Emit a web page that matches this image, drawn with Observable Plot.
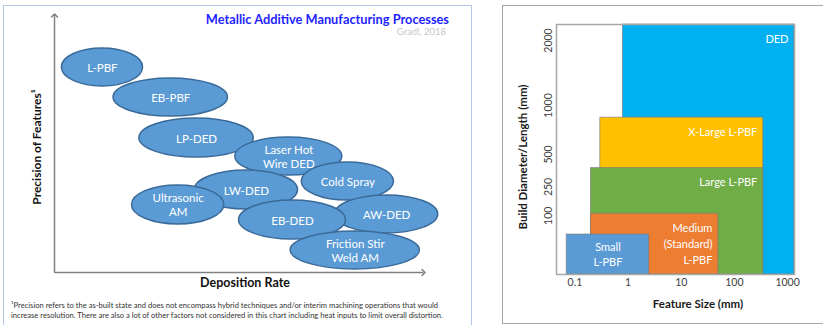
<!DOCTYPE html>
<html><head><meta charset="utf-8">
<script src="https://cdn.jsdelivr.net/npm/d3@7"></script>
<script src="https://cdn.jsdelivr.net/npm/@observablehq/plot@0.6"></script>
<style>
body{margin:0;background:#fff;font-family:Lato,"Open Sans",sans-serif;}
#wrap{position:relative;width:823px;height:325px;overflow:hidden;background:#fff;}
.abs{position:absolute;white-space:nowrap;line-height:1;}
.box{position:absolute;box-sizing:border-box;}
</style></head><body>
<div id="wrap">
  <div class="box" style="left:3px;top:5px;width:469px;height:340px;border:1px solid #b4c7e7;"></div>
  <div class="box" style="left:502px;top:5px;width:340px;height:319px;border:1.5px solid #a6a6a6;"></div>
  <div id="left" class="abs" style="left:0;top:0;"></div>
  <div id="right" class="abs" style="left:502px;top:0;"></div>
  <div class="abs" style="left:449px;top:19px;transform:translate(-100%,-50%);color:#1f1fff;font-weight:bold;font-size:12.8px;">Metallic Additive Manufacturing Processes</div>
  <div class="abs" style="left:446px;top:32px;transform:translate(-100%,-50%);color:#c8c8c8;font-size:9.5px;">Gradl, 2018</div>
  <div class="abs" style="left:245px;top:283px;transform:translate(-50%,-50%);color:#111;font-weight:bold;font-size:12.5px;">Deposition Rate</div>
  <div class="abs" style="left:37px;top:147px;transform:translate(-50%,-50%) rotate(-90deg);color:#111;font-weight:bold;font-size:12px;">Precision of Features¹</div>
  <div class="abs" style="left:11px;top:300px;color:#333;font-size:7.6px;line-height:10px;">¹Precision refers to the as-built state and does not encompass hybrid techniques and/or interim machining operations that would<br>increase resolution. There are also a lot of other factors not considered in this chart including heat inputs to limit overall distortion.</div>
  <div class="abs" style="left:698px;top:304px;transform:translate(-50%,-50%);color:#1a1a1a;font-weight:bold;font-size:11.5px;">Feature Size (mm)</div>
  <div class="abs" style="left:523px;top:157px;transform:translate(-50%,-50%) rotate(-90deg);color:#1a1a1a;font-weight:bold;font-size:11.5px;">Build Diameter/Length (mm)</div>
</div>
<script>
// ---- Left panel: processes (conceptual, 0-100 relative units) ----
const processes = ["L-PBF","EB-PBF","LP-DED","Laser Hot\nWire DED","Cold Spray","LW-DED","Ultrasonic\nAM","AW-DED","EB-DED","Friction Stir\nWeld AM"];
const rateLow       = [2, 16, 23, 49, 67, 38, 21, 76, 50, 64];
const rateHigh      = [24, 47, 54, 78, 92, 66, 46, 104, 79, 99];
const precisionLow  = [72.4, 60.7, 44.7, 37.7, 28, 24.5, 18.7, 15.2, 12.8, 1.2];
const precisionHigh = [87.2, 75.5, 59.9, 52.5, 42.8, 39.7, 33.9, 30, 28, 16];

// ---- Right panel: L-PBF / DED build envelopes ----
const systems    = ["DED","X-Large L-PBF","Large L-PBF","Medium\n(Standard)\nL-PBF","Small\nL-PBF"];
const featureMin = [0.8, 0.3, 0.2, 0.2, 0.07];
const featureMax = [1350, 350, 350, 50, 2.5];
const buildMax   = [2540, 1000, 460, 150, 65];
const sizeTicks  = [0.1, 1, 10, 100, 1000];
const buildTicks = [100, 250, 500, 1000, 2000];

const systemColors = ["#00b0f0","#ffc000","#70ad47","#ed7d31","#5b9bd5"];

const ell = processes.map((name,i)=>({name, x1:rateLow[i], x2:rateHigh[i], y1:precisionLow[i], y2:precisionHigh[i]}));
const axesLines = [{x1:0,y1:0,x2:0,y2:100},{x1:0,y1:0,x2:100,y2:0}];

const left = Plot.plot({
  width:470, height:290, marginLeft:54, marginRight:47, marginTop:15, marginBottom:18,
  x:{domain:[0,100], axis:null}, y:{domain:[0,100], axis:null},
  style:{background:"transparent", overflow:"visible", fontFamily:"Lato, sans-serif"},
  marks:[
    Plot.link(axesLines, {x1:"x1", y1:"y1", x2:"x2", y2:"y2", stroke:"#808080", strokeWidth:1.5, markerEnd:"arrow"}),
    Plot.rect(ell, {x1:"x1", x2:"x2", y1:"y1", y2:"y2", rx:400, ry:400, fill:"#5b9bd5", stroke:"#3a6a98", strokeWidth:1.5}),
    Plot.text(ell, {x:d=>(d.x1+d.x2)/2, y:d=>(d.y1+d.y2)/2, text:"name", fill:"white", fontSize:11.5, lineHeight:1.22})
  ]
});
document.getElementById("left").appendChild(left);

const rects = systems.map((name,i)=>({name, x1:featureMin[i], x2:featureMax[i], y2:buildMax[i], color:systemColors[i]}));
const right = Plot.plot({
  width:321, height:325, marginLeft:54, marginRight:29, marginTop:24, marginBottom:51,
  x:{type:"log", domain:[0.045,1350], axis:null},
  y:{type:"sqrt", domain:[0,2540], axis:null},
  color:{type:"identity"},
  style:{background:"transparent", overflow:"visible", fontFamily:"Lato, sans-serif"},
  marks:[
    Plot.rect(rects, {x1:"x1", x2:"x2", y1:0, y2:"y2", fill:"color", stroke:"#7a7a7a", strokeWidth:0.8, strokeOpacity:0.8}),
    Plot.frame({stroke:"#a6a6a6", strokeWidth:1.5}),
    Plot.text(rects.slice(0,4), {x:"x2", y:"y2", text:"name", textAnchor:"end", lineAnchor:"top", dx:-6, dy:7, fill:"white", fontSize:11, lineHeight:1.45}),
    Plot.text(rects.slice(4), {x:d=>Math.sqrt(d.x1*d.x2), y:"y2", text:"name", lineAnchor:"top", dy:6, fill:"white", fontSize:11, lineHeight:1.35}),
    Plot.text(sizeTicks, {x:d=>d, frameAnchor:"bottom", dy:11, text:d=>String(d), fill:"#404040", fontSize:10.5}),
    Plot.text(buildTicks, {y:d=>d, frameAnchor:"left", dx:-8, rotate:-90, text:d=>String(d), fill:"#404040", fontSize:10.5})
  ]
});
document.getElementById("right").appendChild(right);
</script>
</body></html>
